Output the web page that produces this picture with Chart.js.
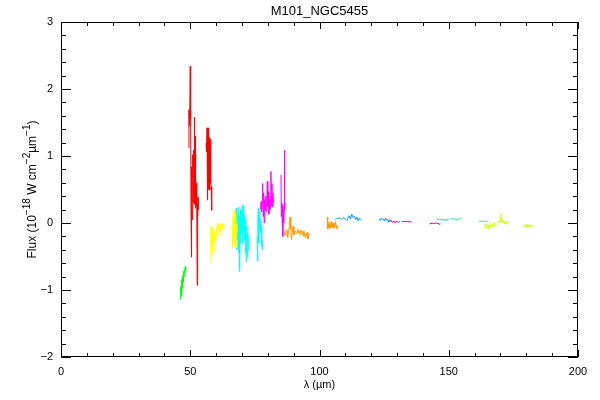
<!DOCTYPE html>
<html>
<head>
<meta charset="utf-8">
<script src="https://cdn.jsdelivr.net/npm/chart.js@4/dist/chart.umd.min.js"></script>
<style>
  html, body { margin: 0; padding: 0; background: #fff; }
  #wrap { width: 600px; height: 400px; }
</style>
</head>
<body>
<div id="wrap"><canvas id="chart" width="600" height="400"></canvas></div>
<script>
// axis ticks
const xTicks = [0, 50, 100, 150, 200];
const yTicks = [-2, -1, 0, 1, 2, 3];

// spectrum pieces, wavelength (micron) and flux (1e-18 W cm-2 um-1)
const green1Lam = [46.0, 46.2, 46.35, 46.45, 46.6, 46.75, 46.9, 47.05, 47.2, 47.35, 47.5, 47.65, 47.8, 47.95, 48.1, 48.25, 48.35];
const green1Flux = [-1.15, -1.12, -0.95, -1.10, -0.85, -1.07, -0.82, -0.97, -0.78, -0.88, -0.72, -0.80, -0.68, -0.74, -0.65, -0.70, -0.64];

const red1Lam = [49.4, 49.5, 49.6, 49.7, 49.8, 49.9, 50.0, 50.1, 50.2, 50.3, 50.4, 50.5, 50.6, 50.7, 50.8, 50.9, 50.95, 51.0, 51.05, 51.1, 51.15, 51.2, 51.25, 51.3, 51.35, 51.4, 51.45, 51.5, 51.55, 51.6, 51.65, 51.7, 51.75, 51.8, 51.85, 51.9, 51.95, 52.0, 52.05, 52.1, 52.15, 52.2, 52.3, 52.4, 52.5, 52.6, 52.7, 52.8, 52.9, 53.0, 53.1];
const red1Flux = [1.12, 1.69, 1.45, 1.66, 1.52, 1.60, 2.34, 1.57, 1.55, 0.20, 0.84, -0.51, 0.62, 0.10, 0.85, 0.05, 0.95, 0.30, 1.02, 0.35, 0.95, 0.40, 1.05, 0.30, 1.09, 0.35, 0.90, 0.45, 1.58, 0.55, 1.00, 0.40, 1.42, 0.28, 1.25, 0.35, 1.30, 0.22, 1.10, 0.40, 0.90, 0.45, 0.60, 0.25, 0.45, 0.30, -0.93, 0.30, 0.10, 0.38, 0.20];

const red2Lam = [56.1, 56.2, 56.3, 56.4, 56.5, 56.6, 56.7, 56.8, 56.9, 57.0, 57.1, 57.2, 57.3, 57.4, 57.5, 57.6, 57.7, 57.8, 57.9, 58.0, 58.1, 58.2, 58.3, 58.4];
const red2Flux = [1.19, 1.06, 1.15, 1.08, 1.42, 0.34, 1.30, 0.70, 1.42, 0.50, 1.35, 0.80, 1.20, 0.55, 1.28, 0.49, 1.10, 0.70, 1.25, 0.60, 0.54, 0.30, 0.45, 0.19];

const yellow1Lam = [57.9, 58.0, 58.1, 58.2, 58.3, 58.4, 58.5, 58.7, 58.9, 59.1, 59.3, 59.5, 59.7, 59.9, 60.1, 60.3, 60.5, 60.7, 60.9, 61.1, 61.3, 61.5, 61.7, 61.9, 62.1, 62.3, 62.5, 62.7, 62.9, 63.1];
const yellow1Flux = [-0.60, -0.05, -0.40, -0.10, -0.50, -0.08, -0.45, -0.07, -0.30, -0.12, -0.43, -0.15, -0.20, -0.25, -0.10, -0.05, -0.18, 0.00, -0.08, -0.03, -0.12, -0.02, -0.20, -0.06, -0.01, -0.10, 0.00, -0.05, -0.02, -0.08];

const yellow2Lam = [66.1, 66.25, 66.4, 66.55, 66.7, 66.85, 67.0, 67.15, 67.3, 67.45, 67.6, 67.75, 67.9, 68.05, 68.2];
const yellow2Flux = [-0.05, -0.10, -0.37, 0.10, -0.30, -0.05, 0.19, -0.35, 0.05, -0.20, 0.15, -0.36, 0.00, -0.15, -0.05];

const cyan1Lam = [67.6, 67.75, 67.9, 68.05, 68.2, 68.35, 68.5, 68.65, 68.8, 68.95, 69.1, 69.25, 69.4, 69.55, 69.7, 69.85, 70.0, 70.15, 70.3, 70.45, 70.6, 70.75, 70.9, 71.05, 71.2, 71.35, 71.5, 71.65, 71.8, 71.95, 72.1, 72.25, 72.4, 72.55, 72.7];
const cyan1Flux = [-0.20, 0.22, -0.40, 0.05, -0.25, 0.15, -0.10, 0.24, -0.45, 0.10, -0.72, 0.05, 0.20, -0.30, 0.18, -0.15, 0.10, 0.27, -0.31, 0.05, 0.25, -0.10, 0.12, -0.25, 0.00, -0.45, 0.06, -0.58, -0.20, -0.05, -0.50, -0.15, -0.30, -0.40, -0.20];

const cyan2Lam = [75.9, 76.05, 76.2, 76.35, 76.5, 76.65, 76.8, 76.95, 77.1, 77.25, 77.4, 77.55, 77.7, 77.85, 78.0];
const cyan2Flux = [-0.20, -0.57, 0.05, 0.22, -0.30, 0.10, 0.18, -0.10, 0.05, -0.15, -0.05, -0.35, -0.10, -0.40, -0.25];

const magenta1Lam = [77.2, 77.4, 77.6, 77.8, 78.0, 78.2, 78.4, 78.6, 78.8, 79.0, 79.2, 79.4, 79.6, 79.8, 80.0, 80.2, 80.4, 80.6, 80.8, 81.0, 81.2, 81.4, 81.6, 81.8, 82.0, 82.2];
const magenta1Flux = [0.20, 0.32, 0.17, 0.28, 0.59, 0.10, 0.45, 0.00, 0.35, 0.20, 0.40, 0.17, 0.30, 0.62, 0.25, 0.47, 0.13, 0.35, 0.20, 0.40, 0.77, 0.25, 0.59, 0.24, 0.45, 0.30];

const magenta2Lam = [85.1, 85.25, 85.4, 85.55, 85.7, 85.85, 86.0, 86.15, 86.3, 86.45, 86.6, 86.75];
const magenta2Flux = [0.72, 0.10, 0.30, 0.05, 0.27, -0.20, 0.20, 0.00, 0.25, 1.09, 0.20, 0.30];

const orange1Lam = [86.2, 86.5, 86.8, 87.1, 87.4, 87.7, 88.0, 88.3, 88.6, 88.9, 89.2, 89.5, 89.8, 90.1, 90.4, 90.7, 91.0, 91.3, 91.6, 91.9, 92.2, 92.5, 92.8, 93.1, 93.4, 93.7, 94.0, 94.3, 94.6, 94.9, 95.2, 95.5, 95.8, 96.1];
const orange1Flux = [-0.20, -0.12, -0.15, -0.18, -0.10, -0.22, -0.15, -0.05, 0.09, -0.10, -0.25, -0.12, -0.05, -0.18, -0.14, -0.12, -0.16, -0.14, -0.09, -0.15, -0.12, -0.18, -0.10, -0.14, -0.17, -0.12, -0.20, -0.15, -0.22, -0.18, -0.14, -0.24, -0.20, -0.16];

const orange2Lam = [103.0, 103.2, 103.4, 103.6, 103.8, 104.0, 104.2, 104.4, 104.6, 104.8, 105.0, 105.2, 105.4, 105.6, 105.8, 106.0, 106.2, 106.4, 106.6, 106.8, 107.0];
const orange2Flux = [0.09, -0.09, -0.02, -0.06, 0.01, -0.08, -0.03, -0.06, 0.02, -0.05, -0.02, -0.07, 0.00, -0.04, -0.08, -0.02, 0.02, -0.06, -0.03, -0.09, -0.05];

const blue1Lam = [106.0, 106.5, 107.0, 107.5, 108.0, 108.5, 109.0, 109.5, 110.0, 110.5, 111.0, 111.5, 112.0, 112.5, 113.0, 113.5, 114.0, 114.5, 115.0, 115.5, 116.0];
const blue1Flux = [0.05, 0.07, 0.06, 0.08, 0.07, 0.05, 0.07, 0.08, 0.06, 0.04, 0.07, 0.11, 0.06, 0.13, 0.08, 0.10, 0.05, 0.09, 0.03, 0.07, 0.04];

const blue2Lam = [123.1, 123.5, 123.9, 124.3, 124.7, 125.1, 125.5, 125.9, 126.3, 126.7, 127.1, 127.5];
const blue2Flux = [0.06, 0.04, 0.07, 0.05, 0.06, 0.03, 0.07, 0.04, 0.06, 0.02, 0.05, 0.03];

const pink1Lam = [126.5, 126.9, 127.3, 127.7, 128.1, 128.5, 128.9, 129.3, 129.7, 130.1, 130.5, 131.1];
const pink1Flux = [0.01, 0.03, 0.02, 0.04, 0.01, 0.02, 0.03, 0.00, 0.02, 0.03, 0.01, 0.02];

const pink2Lam = [131.8, 132.6, 133.4, 134.2, 135.0, 135.7];
const pink2Flux = [0.02, 0.02, 0.025, 0.02, 0.02, 0.015];

const pink3Lam = [142.7, 143.1, 143.5, 143.9, 144.3, 144.7, 145.1, 145.5, 145.9, 146.3, 146.6];
const pink3Flux = [-0.02, 0.00, -0.01, 0.00, -0.01, 0.00, 0.00, -0.01, 0.00, -0.02, -0.01];

const aqua1Lam = [145.3, 145.7, 146.1, 146.5, 146.9, 147.3, 147.7, 148.1, 148.5, 148.9, 149.3, 149.7, 150.1];
const aqua1Flux = [0.05, 0.06, 0.05, 0.05, 0.06, 0.04, 0.06, 0.05, 0.03, 0.06, 0.04, 0.05, 0.06];

const aqua2Lam = [150.9, 151.3, 151.7, 152.1, 152.5, 152.9, 153.3, 153.7, 154.1, 154.5, 155.0];
const aqua2Flux = [0.07, 0.06, 0.06, 0.07, 0.05, 0.06, 0.04, 0.05, 0.06, 0.07, 0.08];

const aqua3Lam = [161.7, 162.1, 162.5, 162.9, 163.3, 163.7, 164.1, 164.5, 164.9, 165.3];
const aqua3Flux = [0.03, 0.02, 0.03, 0.02, 0.03, 0.02, 0.03, 0.02, 0.03, 0.02];

const lime1Lam = [164.0, 164.3, 164.6, 164.9, 165.2, 165.5, 165.8, 166.1, 166.4, 166.7, 167.0, 167.3, 167.6, 167.9, 168.2];
const lime1Flux = [-0.02, -0.08, -0.01, -0.06, -0.09, -0.03, -0.07, 0.00, -0.05, -0.02, -0.06, -0.03, 0.01, -0.04, -0.02];

const lime2Lam = [169.2, 169.5, 169.8, 170.1, 170.4, 170.7, 171.0, 171.3, 171.6, 171.9, 172.2, 172.5, 172.8, 173.0];
const lime2Flux = [0.01, 0.03, 0.00, 0.14, 0.02, 0.05, 0.01, 0.03, -0.01, 0.02, 0.00, -0.02, 0.03, 0.01];

const lime3Lam = [179.0, 179.3, 179.6, 179.9, 180.2, 180.5, 180.8, 181.1, 181.4, 181.7, 182.0, 182.3, 182.7];
const lime3Flux = [-0.05, -0.03, -0.06, -0.02, -0.04, -0.07, -0.03, -0.05, -0.02, -0.06, -0.04, -0.03, -0.05];

const pieces = [
    [green1Lam, green1Flux, '#00ff00'],
    [red1Lam, red1Flux, '#ff0000'],
    [red2Lam, red2Flux, '#ff0000'],
    [yellow1Lam, yellow1Flux, '#ffff00'],
    [yellow2Lam, yellow2Flux, '#ffff00'],
    [cyan1Lam, cyan1Flux, '#00ffff'],
    [cyan2Lam, cyan2Flux, '#00ffff'],
    [magenta1Lam, magenta1Flux, '#ff00ff'],
    [magenta2Lam, magenta2Flux, '#ff00ff'],
    [orange1Lam, orange1Flux, '#ff9900'],
    [orange2Lam, orange2Flux, '#ff9900'],
    [blue1Lam, blue1Flux, '#0099ff'],
    [blue2Lam, blue2Flux, '#0099ff'],
    [pink1Lam, pink1Flux, '#ff0099'],
    [pink2Lam, pink2Flux, '#ff0099'],
    [pink3Lam, pink3Flux, '#ff0099'],
    [aqua1Lam, aqua1Flux, '#00ff99'],
    [aqua2Lam, aqua2Flux, '#00ff99'],
    [aqua3Lam, aqua3Flux, '#00ff99'],
    [lime1Lam, lime1Flux, '#ccff00'],
    [lime2Lam, lime2Flux, '#ccff00'],
    [lime3Lam, lime3Flux, '#ccff00']
];

const FONT = '"Liberation Sans", Arial, sans-serif';

// IDL-like frame: box on four sides, ticks pointing in, titles
const idlFramePlugin = {
    id: 'idlFrame',
    afterDraw(chart) {
        const { ctx, chartArea: { left, right, top, bottom }, scales: { x, y } } = chart;
        ctx.save();
        ctx.strokeStyle = '#000';
        ctx.lineWidth = 1;
        ctx.strokeRect(left + 0.5, top + 0.5, right - left - 1, bottom - top - 1);
        ctx.beginPath();
        for (let v = 0; v <= 200; v += 10) {
            const px = Math.round(x.getPixelForValue(v)) + 0.5;
            const len = v % 50 === 0 ? 7 : 4;
            ctx.moveTo(px, bottom); ctx.lineTo(px, bottom - len);
            ctx.moveTo(px, top); ctx.lineTo(px, top + len);
        }
        for (let i = -10; i <= 15; i++) {
            const v = i / 5;
            const py = Math.round(y.getPixelForValue(v)) + 0.5;
            const len = i % 5 === 0 ? 10 : 5;
            ctx.moveTo(left, py); ctx.lineTo(left + len, py);
            ctx.moveTo(right, py); ctx.lineTo(right - len, py);
        }
        ctx.stroke();

        ctx.fillStyle = '#000';
        ctx.textBaseline = 'alphabetic';
        ctx.textAlign = 'center';
        ctx.font = '13px ' + FONT;
        ctx.fillText('M101_NGC5455', (left + right) / 2, 15);
        ctx.font = '11px ' + FONT;
        ctx.fillText('λ (µm)', (left + right) / 2, 388);

        // y title with superscripts, rotated
        const parts = [
            ['Flux (10', false], ['\u221218', true], [' W cm', false], ['\u22122', true],
            ['µm', false], ['\u22121', true], [')', false]
        ];
        const widthOf = p => { ctx.font = (p[1] ? '10px ' : '12px ') + FONT; return ctx.measureText(p[0]).width; };
        const total = parts.reduce((s, p) => s + widthOf(p), 0);
        ctx.translate(36, (top + bottom) / 2);
        ctx.rotate(-Math.PI / 2);
        ctx.textAlign = 'left';
        let cx = -total / 2;
        for (const p of parts) {
            const w = widthOf(p);
            ctx.fillText(p[0], cx, p[1] ? -6 : 0);
            cx += w;
        }
        ctx.restore();
    }
};

const datasets = pieces.map(([lam, flux, color]) => ({
    data: lam.map((l, i) => ({ x: l, y: flux[i] })),
    showLine: true,
    borderColor: color,
    backgroundColor: color,
    borderWidth: 1,
    pointRadius: 0,
    tension: 0
}));

new Chart(document.getElementById('chart').getContext('2d'), {
    type: 'scatter',
    data: { datasets },
    options: {
        responsive: false,
        animation: false,
        layout: { padding: { top: 22, right: 22, left: 0, bottom: 0 } },
        plugins: { legend: { display: false }, tooltip: { enabled: false } },
        scales: {
            x: {
                type: 'linear', min: 0, max: 200,
                afterBuildTicks: s => { s.ticks = xTicks.map(v => ({ value: v })); },
                afterFit: s => { s.height = 43; },
                grid: { display: false, drawTicks: false },
                border: { display: false },
                ticks: { color: '#000', font: { family: FONT, size: 11 }, padding: 8, maxRotation: 0 }
            },
            y: {
                type: 'linear', min: -2, max: 3,
                afterBuildTicks: s => { s.ticks = yTicks.map(v => ({ value: v })); },
                afterFit: s => { s.width = 61; },
                grid: { display: false, drawTicks: false },
                border: { display: false },
                ticks: { color: '#000', font: { family: FONT, size: 11 }, padding: 8,
                    callback: v => v < 0 ? '\u2212' + Math.abs(v) : String(v) }
            }
        }
    },
    plugins: [idlFramePlugin]
});
</script>
</body>
</html>
